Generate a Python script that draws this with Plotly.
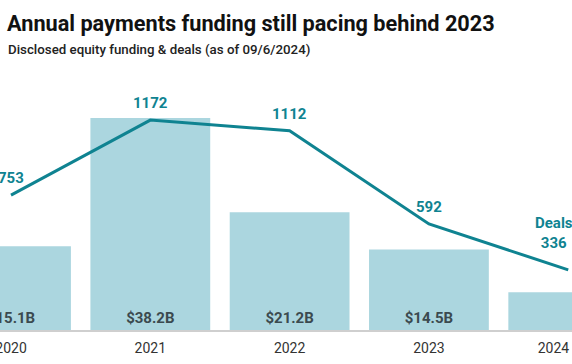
import plotly.graph_objects as go

years = ["2020", "2021", "2022", "2023", "2024 YTD"]
funding_b = [15.1, 38.2, 21.2, 14.5, 6.8]
funding_labels = ["$15.1B", "$38.2B", "$21.2B", "$14.5B", ""]
deals = [753, 1172, 1112, 592, 336]
deal_labels = ["753", "1172", "1112", "592", "Deals<br>336"]

TEAL = "#0f8391"
BAR = "#abd6df"

fig = go.Figure()
fig.add_trace(go.Bar(
    x=years, y=funding_b, marker=dict(color=BAR, line=dict(width=0)),
    text=funding_labels, textposition="inside", insidetextanchor="start",
    textangle=0,
    textfont=dict(family="Roboto", size=15, color="#3b4a4f", weight="bold"),
    width=0.86, cliponaxis=True, hoverinfo="skip", yaxis="y",
))
fig.add_trace(go.Scatter(
    x=years, y=deals, mode="lines", line=dict(color=TEAL, width=3),
    yaxis="y2", hoverinfo="skip",
))

for i, (d, lab) in enumerate(zip(deals, deal_labels)):
    last = i == len(deals) - 1
    fig.add_annotation(
        x=i, y=d, xref="x", yref="y2", text=lab, showarrow=False,
        yanchor="bottom", yshift=16 if last else 6, xshift=-14 if last else 0,
        font=dict(family="Roboto", size=15, color=TEAL, weight="bold"),
    )

fig.update_layout(
    width=572, height=364,
    margin=dict(l=0, r=0, t=100, b=34, autoexpand=False),
    paper_bgcolor="white", plot_bgcolor="white",
    showlegend=False, bargap=0.14, hovermode=False,
    xaxis=dict(
        type="category", range=[-0.079, 4.027], showgrid=False, automargin=False,
        showline=True, linecolor="#cfcfcf", linewidth=2,
        ticks="", ticklabelstandoff=4,
        tickfont=dict(family="Roboto", size=14, color="#333333"),
        fixedrange=True,
    ),
    yaxis=dict(range=[0, 41.44], visible=False, fixedrange=True, automargin=False),
    yaxis2=dict(range=[0, 1284], visible=False, overlaying="y", fixedrange=True,
                automargin=False),
    annotations=list(fig.layout.annotations) + [
        dict(text="<b>Annual payments funding still pacing behind 2023</b>",
             xref="paper", yref="paper", x=0, y=1, xanchor="left", yanchor="top",
             xshift=5, yshift=91, showarrow=False,
             font=dict(family="Roboto", size=21.7, color="#111111")),
        dict(text="Disclosed equity funding & deals (as of 09/6/2024)",
             xref="paper", yref="paper", x=0, y=1, xanchor="left", yanchor="top",
             xshift=6, yshift=60, showarrow=False,
             font=dict(family="Roboto", size=13.3, color="#222222", weight=500)),
    ],
)

fig.write_html(
    "out.html",
    config={"displayModeBar": False, "staticPlot": True},
    post_script="document.body.style.margin='0';document.body.style.overflow='hidden';",
)
